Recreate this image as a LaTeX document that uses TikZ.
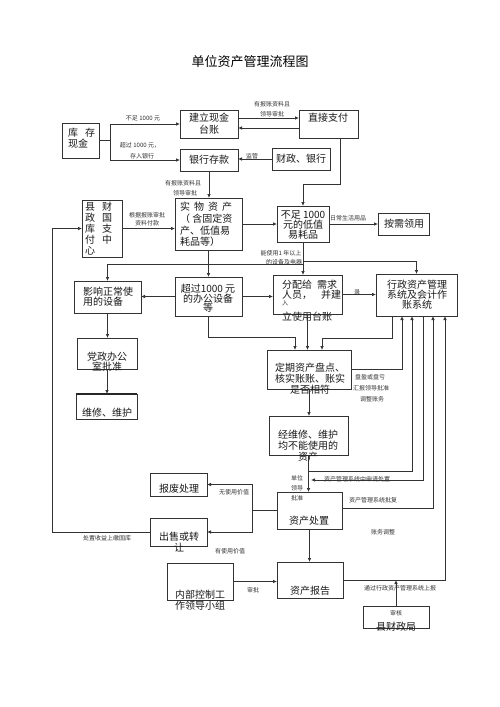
\documentclass[tikz,border=0pt]{standalone}
\usepackage{fontspec}
\setmainfont{Noto Sans CJK SC}
\usetikzlibrary{arrows.meta}
\newcommand\mybox[5]{%
  \pgfmathsetmacro\mybw{#4-#2}\pgfmathsetmacro\mybh{#5-#3}%
  \node[box, minimum width=\mybw pt, minimum height=\mybh pt] (#1) at ({(#2+#4)/2},{(#3+#5)/2}) {};}
\begin{document}
\begin{tikzpicture}[x=1pt,y=-1pt,
  box/.style={draw=black!80, line width=0.8pt, inner sep=0pt, outer sep=0pt},
  tx/.style={font=\fontsize{10}{11}\selectfont, inner sep=0pt, align=center, text=black!90},
  lb/.style={font=\fontsize{6}{7}\selectfont, inner sep=0pt, text=black!80},
  ar/.style={-{Latex[length=4pt,width=3.5pt]}, line width=0.7pt, draw=black!80},
  ln/.style={line width=0.7pt, draw=black!80}]
\useasboundingbox (0,0) rectangle (500,707);
\fill[white] (0,0) rectangle (500,707);

% title
\node[font=\fontsize{13}{15}\selectfont, inner sep=0pt] (title) at (250,62) {单位资产管理流程图};

% boxes
\mybox{kucun}{62}{123}{99}{158}
\mybox{jianli}{180}{110}{238}{138}
\mybox{zhijie}{299}{110}{358}{138}
\mybox{yinhang}{180}{149}{238}{171}
\mybox{caizheng}{272}{148}{330}{170}
\mybox{xian}{82}{200}{122}{257}
\mybox{shiwu}{175}{198}{242}{250}
\mybox{buzu}{277}{206}{329}{242}
\mybox{anxu}{378}{213}{429}{235}
\mybox{yingxiang}{74}{281}{141}{313}
\mybox{chaoguo}{175}{277}{242}{316}
\mybox{fenpei}{273}{275}{342}{314}
\mybox{xingzheng}{376}{274}{457}{316}
\mybox{dingqi}{267}{350}{351}{389}
\mybox{dangzheng}{77}{338}{137}{369}
\mybox{weixiu}{76}{394}{137}{419}
\draw[line width=1.4pt, black!85] (weixiu.north west) -- (weixiu.north east);
\mybox{jingweixiu}{269}{416}{348}{455}
\mybox{baofei}{150}{473}{207}{496}
\mybox{chushou}{150}{518}{207}{546}
\mybox{chuzhi}{277}{492}{342}{529}
\mybox{neibu}{167}{563}{233}{600}
\mybox{baogao}{277}{562}{343}{598}
\mybox{xiancz}{363}{606}{429}{628}

% box texts
\node[tx, align=left, anchor=west] (t-kucun) at (68,138.5) {库\hspace{7pt}存\\现金};
\node[tx, font=\fontsize{10}{12}\selectfont] (t-jianli) at (209,124) {建立现金\\台账};
\node[tx] (t-zhijie) at (328,118) {直接支付};
\node[tx] (t-yinhang) at (209,160) {银行存款};
\node[tx] (t-caizheng) at (301,159) {财政、银行};
\node[tx, align=left, anchor=west] (t-xian) at (85,229) {县\hspace{7pt}财\\政\hspace{7pt}国\\库\hspace{7pt}支\\付\hspace{7pt}中\\心};
\node[tx, align=left, anchor=west, font=\fontsize{10}{11.7}\selectfont] (t-shiwu) at (180,224.5) {实\hspace{4pt}物\hspace{4pt}资\hspace{4pt}产\\（ 含固定资\\产、低值易\\耗品等）};
\node[tx, font=\fontsize{10}{10}\selectfont] (t-buzu) at (303,225) {不足 1000\\元的低值\\易耗品};
\node[tx] (t-anxu) at (404,224) {按需领用};
\node[tx, align=left, anchor=west, font=\fontsize{10}{10}\selectfont] (t-yingxiang) at (83,297) {影响正常使\\用的设备};
\node[tx, font=\fontsize{10}{9.6}\selectfont] (t-chaoguo) at (208,298.5) {超过1000 元\\的办公设备\\等};
\node[tx, align=left, anchor=west, font=\fontsize{10}{10}\selectfont] (t-fenpei) at (282,290) {分配给\hspace{5pt}需求\\人员，\hspace{9pt}并建};
\node[lb] (t-fenpei2) at (285,303) {入};
\node[tx, anchor=west] (t-fenpei3) at (282,317) {立使用台账};
\node[tx, font=\fontsize{10}{10}\selectfont] (t-xingzheng) at (417,295) {行政资产管理\\系统及会计作\\账系统};
\node[tx] (t-dingqi) at (310,379) {定期资产盘点、\\核实账账、账实\\是否相符};
\node[tx, font=\fontsize{10}{9.5}\selectfont] (t-dangzheng) at (107,361.5) {党政办公\\室批准};
\node[tx] (t-weixiu) at (107,413) {维修、维护};
\node[tx] (t-jingweixiu) at (308,446) {经维修、维护\\均不能使用的\\资产};
\node[tx] (t-baofei) at (179,489) {报废处理};
\node[tx] (t-chushou) at (179,542.5) {出售或转\\让};
\node[tx] (t-chuzhi) at (309,521) {资产处置};
\node[tx] (t-neibu) at (200,600.5) {内部控制工\\作领导小组};
\node[tx] (t-baogao) at (310,591) {资产报告};
\node[tx] (t-xiancz) at (396,627) {县财政局};

% small labels
\node[lb] (l1) at (143,118) {不足 1000 元};
\node[lb] (l2) at (140,145) {超过 1000 元，};
\node[lb] (l3) at (142,156) {存入银行};
\node[lb] (l4) at (272,104) {有报账资料且};
\node[lb] (l5) at (272,114) {领导审批};
\node[lb] (l6) at (252,156) {监管};
\node[lb] (l7) at (183,183) {有报账资料且};
\node[lb] (l8) at (185,193) {领导审批};
\node[lb] (l9) at (147,215) {根据报账审批};
\node[lb] (l10) at (147,223.5) {资料付款};
\node[lb] (l11) at (348,218) {日常生活用品};
\node[lb] (l12) at (281,253) {能使用1 年以上};
\node[lb] (l13) at (284,262) {的设备及电器};
\node[lb] (l14) at (357,292) {录};
\node[lb] (l15) at (370,377) {盘盈或盘亏};
\node[lb] (l16) at (371,388) {汇报领导批准};
\node[lb] (l17) at (372,399) {调整账务};
\node[lb] (l18) at (297,478) {单位};
\node[lb] (l19) at (297,488) {领导};
\node[lb] (l20) at (297,498) {批准};
\node[lb] (l21) at (357,479.5) {资产管理系统中申请处置};
\node[lb] (l22) at (373,500) {资产管理系统批复};
\node[lb] (l23) at (383,532) {账务调整};
\node[lb] (l24) at (234,492) {无使用价值};
\node[lb] (l25) at (230,551) {有使用价值};
\node[lb] (l26) at (107,538) {处置收益上缴国库};
\node[lb] (l27) at (253,590) {审批};
\node[lb] (l28) at (400,588) {通过行政资产管理系统上报};
\node[lb] (l29) at (396,613) {审核};

% helper coordinates
\coordinate (ka) at (110,140.5);
\coordinate (j1) at (303,261);
\coordinate (j2) at (303,264);
\coordinate (j3) at (308,471);
\coordinate (j4) at (311,480);
\coordinate (j5) at (252,510.5);

% connectors
\draw[ln] (kucun.east) -- (ka);
\draw[ar] (ka) |- (jianli.west);
\draw[ar] (ka) |- (yinhang.west);
\draw[ar] ([yshift=6pt]jianli.east) -- ([yshift=6pt]zhijie.west);
\draw[ar] ([yshift=-4pt]zhijie.west) -- ([yshift=-4pt]jianli.east);
\draw[ar] (caizheng.west) -- (caizheng.west -| yinhang.east);
\draw[ar] (yinhang.south) -- (yinhang.south |- shiwu.north);
\draw[ar] ([xshift=11.5pt]zhijie.south) -- ++(0,46) -| (buzu.north);
\draw[ar] (xian.east) -- (xian.east -| shiwu.west);
\draw[ar] (shiwu.east) -- (buzu.west);
\draw[ar] (buzu.east) -- (anxu.west);
\draw[ar] (buzu.south) -- (buzu.south |- fenpei.north);
\draw[ar] (j1) -| (xingzheng.north);
\draw[ar] (j2) -| (yingxiang.north);
\draw[ar] (shiwu.south) -- (chaoguo.north);
\draw[ar] (chaoguo.west) -- (chaoguo.west -| yingxiang.east);
\draw[ar] (chaoguo.east) -- (chaoguo.east -| fenpei.west);
\draw[ar] (fenpei.east) -- (fenpei.east -| xingzheng.west);
\draw[ar] (yingxiang.south) -- (yingxiang.south |- dangzheng.north);
\draw[ar] (dangzheng.south) -- (dangzheng.south |- weixiu.north);
\draw[ar] (chaoguo.south) -- ++(0,21) -| ([xshift=-14pt]dingqi.north);
\draw[ar] (fenpei.south) -- (fenpei.south |- dingqi.north);
\draw[ar] ([xshift=-24.5pt]xingzheng.south) -- ++(0,22) -| ([xshift=13pt]dingqi.north);
\draw[ar] (dingqi.east) -| ([xshift=-14.5pt]xingzheng.south);
\draw[ar] (dingqi.south) -- (dingqi.south |- jingweixiu.north);
\draw[ar] (jingweixiu.south) -- (jingweixiu.south |- chuzhi.north);
\draw[ar] (j3) -| ([xshift=-4.5pt]xingzheng.south);
\draw[ar] ([xshift=6.5pt]xingzheng.south) |- (j4);
\draw[ar] ([yshift=2.5pt]chuzhi.east) -| ([xshift=16.5pt]xingzheng.south);
\draw[ar] (baogao.east) -| ([xshift=28.5pt]xingzheng.south);
\draw[ln] (chuzhi.west) -- (j5);
\draw[ar] (j5) |- (baofei.east);
\draw[ar] (j5) |- (j5 |- chushou.east) -- (chushou.east);
\draw[ar] (chushou.west) -- ++(-98,0) |- (xian.west);
\draw[ar] (chuzhi.south) -- (chuzhi.south |- baogao.north);
\draw[ar] (neibu.east) -- (neibu.east -| baogao.west);
\draw[ar] (xiancz.north) -- (xiancz.north |- baogao.east);
\end{tikzpicture}
\end{document}
